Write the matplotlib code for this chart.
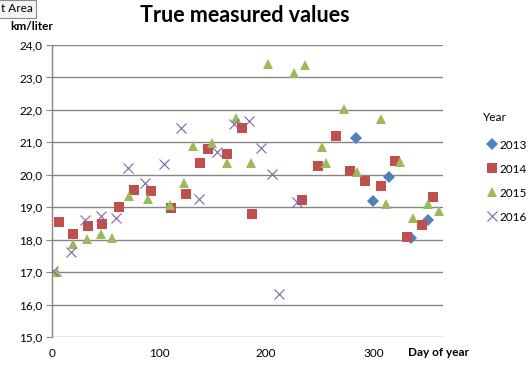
import matplotlib.pyplot as plt
from matplotlib.ticker import FuncFormatter, MultipleLocator
from matplotlib.lines import Line2D

# ---- data (day of year, km/liter) ----
day_2013 = [284, 300, 315, 335, 351]
val_2013 = [21.13, 19.18, 19.93, 18.05, 18.60]

day_2014 = [6.5, 20, 34, 47, 63, 77, 92, 111, 125, 138, 146, 163, 177, 187,
            233, 248, 265, 278, 292, 307, 320, 331, 345, 356]
val_2014 = [18.55, 18.17, 18.41, 18.47, 19.00, 19.52, 19.50, 18.97, 19.40, 20.37,
            20.80, 20.65, 21.45, 18.79, 19.22, 20.28, 21.20, 20.12, 19.81, 19.66,
            20.43, 18.08, 18.44, 19.32]

day_2015 = [4.4, 20, 33, 46, 56, 72, 90, 110, 123, 132, 149, 163, 172, 186,
            202, 226, 236, 252, 256, 273, 285, 307, 312, 325, 337, 351, 361]
val_2015 = [17.00, 17.86, 18.01, 18.18, 18.06, 19.35, 19.25, 19.06, 19.75, 20.89,
            20.98, 20.37, 21.76, 20.35, 23.42, 23.15, 23.37, 20.86, 20.35, 22.03,
            20.10, 21.73, 19.11, 20.39, 18.68, 19.11, 18.89]

day_2016 = [1.2, 18, 31, 45.5, 60, 71, 87, 105, 120, 137, 154, 170, 184, 195,
            205, 212, 229]
val_2016 = [17.03, 17.63, 18.61, 18.74, 18.67, 20.22, 19.76, 20.32, 21.45, 19.24,
            20.71, 21.55, 21.65, 20.82, 20.01, 16.34, 19.15]

years = ["2013", "2014", "2015", "2016"]
series = [(day_2013, val_2013), (day_2014, val_2014),
          (day_2015, val_2015), (day_2016, val_2016)]
colors = ["#4F81BD", "#C0504D", "#9BBB59", "#8064A2"]
markers = ["D", "s", "^", "x"]
msizes = [6.0, 7.4, 7.6, 7.4]

plt.rcParams['font.family'] = ['Lato', 'DejaVu Sans']

fig = plt.figure(figsize=(5.28, 3.69), dpi=100)
ax = fig.add_axes([52 / 528, 1 - 337 / 369, (443 - 52) / 528, (337 - 45) / 369])

for (x, y), c, m, ms in zip(series, colors, markers, msizes):
    if m == "x":
        ax.plot(x, y, linestyle="none", marker=m, color=c, markersize=ms,
                markeredgewidth=0.8, zorder=3)
    else:
        ax.plot(x, y, linestyle="none", marker=m, color=c, markersize=ms,
                markeredgewidth=0, zorder=3)

ax.set_xlim(0, 365)
ax.set_ylim(15, 24)
ax.xaxis.set_major_locator(MultipleLocator(100))
ax.yaxis.set_major_locator(MultipleLocator(1))
ax.yaxis.set_major_formatter(FuncFormatter(lambda v, p: f"{v:.1f}".replace(".", ",")))

ax.grid(axis="y", color="#868686", linewidth=1.0)
ax.set_axisbelow(True)
for s in ["top", "right", "bottom"]:
    ax.spines[s].set_visible(False)
ax.spines["left"].set_color("#868686")
ax.spines["left"].set_linewidth(1.0)
ax.tick_params(axis="y", length=4, color="#868686", labelsize=8.5, pad=3)
ax.tick_params(axis="x", length=0, labelsize=8.5, pad=8)

fig.text(245 / 528, 1 - 16 / 369, "True measured values", ha="center", va="center",
         fontsize=15.5, fontweight="bold")
fig.text(10 / 528, 1 - 27 / 369, "km/liter", ha="left", va="center",
         fontsize=8.5, fontweight="bold")
fig.text(408 / 528, 1 - 352 / 369, "Day of year", ha="left", va="center",
         fontsize=8.5, fontweight="bold")

# tooltip artifact in the corner
fig.text(1 / 528, 1 - 9 / 369, "t Area", ha="left", va="center", fontsize=8.5,
         bbox=dict(boxstyle="square,pad=0.3", fc="#F4F4F4", ec="#8C8C8C", lw=0.8))

fig.text(483 / 528, 1 - 117 / 369, "Year", ha="left", va="center", fontsize=8.5)

handles = []
for c, m, ms in zip(colors, markers, msizes):
    if m == "x":
        handles.append(Line2D([], [], linestyle="none", marker=m, color=c,
                              markersize=ms, markeredgewidth=0.8))
    else:
        handles.append(Line2D([], [], linestyle="none", marker=m, color=c,
                              markersize=ms, markeredgewidth=0))
fig.legend(handles, years, loc="upper left",
           bbox_to_anchor=(477 / 528, 1 - 129 / 369), frameon=False,
           fontsize=8.5, handlelength=0.8, handletextpad=0.2, labelspacing=1.1)

fig.savefig("out.png", dpi=100)
